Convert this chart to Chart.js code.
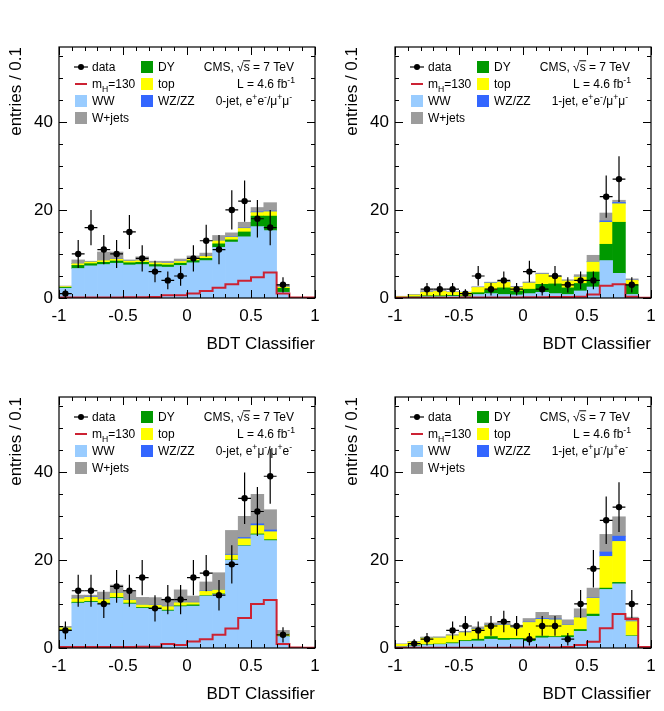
<!DOCTYPE html>
<html><head><meta charset="utf-8">
<script src="https://cdn.jsdelivr.net/npm/chart.js@4.4.1/dist/chart.umd.min.js"></script>
<style>
html,body{margin:0;padding:0;background:#fff;width:664px;height:711px;overflow:hidden;}
.p{position:absolute;width:332px;height:355px;}
</style></head><body>
<div class="p" style="left:0;top:0"><canvas id="c0" width="332" height="355"></canvas></div>
<div class="p" style="left:332px;top:0"><canvas id="c1" width="332" height="355"></canvas></div>
<div class="p" style="left:0;top:350px"><canvas id="c2" width="332" height="355"></canvas></div>
<div class="p" style="left:332px;top:350px"><canvas id="c3" width="332" height="355"></canvas></div>
<script>
// ---------- binning and tick labels ----------
const binCenters = [-0.95,-0.85,-0.75,-0.65,-0.55,-0.45,-0.35,-0.25,-0.15,-0.05,0.05,0.15,0.25,0.35,0.45,0.55,0.65,0.75,0.85,0.95];
const binEdges = [-1,-0.9,-0.8,-0.7,-0.6,-0.5,-0.4,-0.3,-0.2,-0.1,0,0.1,0.2,0.3,0.4,0.5,0.6,0.7,0.8,0.9,1];
const xTickLabels = [-1,-0.5,0,0.5,1];
const yTickLabels = [0,20,40];
const xAxisTitle = 'BDT Classifier';
const yAxisTitle = 'entries / 0.1';
const seriesNames = ['WW','DY','top','WZ/ZZ','W+jets'];

// ---------- panel 1: 0-jet, ee/mumu ----------
const ww_0j_sf  = [2.2,6.7,7.3,7.6,7.9,7.5,7.6,7.1,7.0,7.4,8.0,8.5,11.5,12.7,13.9,16.2,15.3,1.3,0,0];
const dy_0j_sf  = [0.2,0.7,0.5,0.5,0.5,0.5,0.5,0.5,0.5,0.5,0.5,0.5,0.8,0.5,1.1,2.4,3.3,0.9,0,0];
const top_0j_sf = [0.2,0.4,0.4,0.4,0.4,0.4,0.4,0.4,0.4,0.4,0.4,0.45,0.7,0.6,0.8,0.8,1.0,0.3,0,0];
const vv_0j_sf  = [0.02,0.05,0.05,0.05,0.05,0.05,0.05,0.05,0.05,0.05,0.05,0.05,0.1,0.1,0.1,0.15,0.15,0.05,0,0];
const wj_0j_sf  = [0.1,0.8,0.1,1.9,1.6,0.2,0.8,0.3,0.4,0.5,0.6,0.7,1.1,0.9,1.3,1.0,1.9,0.5,0,0];
const sig_0j_sf = [0.1,0.1,0.1,0.1,0.1,0.15,0.15,0.2,0.6,0.6,1.05,1.6,2.3,3.1,3.9,4.7,5.8,1.0,0.1,0.1];
const data_0j_sf = [1,10,16,11,10,15,9,6,4,5,9,13,11,20,22,18,16,3,null,null];
const err_0j_sf  = [1,3.16,4,3.32,3.16,3.87,3,2.45,2,2.24,3,3.61,3.32,4.47,4.69,4.24,4,1.73,null,null];

// ---------- panel 2: 1-jet, ee/mumu ----------
const ww_1j_sf  = [0.1,0.2,0.3,0.3,0.4,0.3,0.8,1.0,0.8,0.7,1.0,1.3,1.0,0.8,1.6,2.5,8.5,5.6,0.8,0];
const dy_1j_sf  = [0,0.1,0.2,0.2,0.2,0.2,0.4,0.8,1.5,0.9,1.0,1.8,2.2,1.5,1.7,3.4,3.7,11.6,2.2,0];
const top_1j_sf = [0.2,0.4,0.8,1.0,0.7,0.8,1.2,1.6,1.3,0.8,1.4,2.3,1.6,1.6,1.5,2.3,5.0,4.2,1.0,0];
const vv_1j_sf  = [0,0,0.02,0.02,0.02,0.02,0.05,0.1,0.05,0.05,0.05,0.05,0.05,0.05,0.1,0.1,0.3,0.3,0.05,0];
const wj_1j_sf  = [0.1,0.1,0.4,0.2,0.1,0,0.1,0.1,0.2,0.2,0.2,0.2,0.2,0.2,0.4,1.4,1.8,0.5,0.3,0];
const sig_1j_sf = [0.05,0.05,0.05,0.05,0.05,0.1,0.1,0.1,0.1,0.1,0.15,0.15,0.2,0.2,0.3,0.8,2.8,3.1,0.3,0.05];
const data_1j_sf = [null,null,2,2,2,1,5,2,4,2,6,2,5,3,4,4,23,27,3,null];
const err_1j_sf  = [null,null,1.41,1.41,1.41,1,2.24,1.41,2,1.41,2.45,1.41,2.24,1.73,2,2,4.8,5.2,1.73,null];

// ---------- panel 3: 0-jet, emu/mue ----------
const ww_0j_of  = [4.0,10.2,10.4,10.0,11.3,10.0,9.0,8.9,8.4,9.4,9.5,11.8,12.2,19.9,23.2,25.7,24.4,2.6,0,0];
const dy_0j_of  = [0.1,0.2,0.2,0.2,0.2,0.2,0.2,0.2,0.2,0.2,0.3,0.1,0.1,0.1,0.1,0.2,0.2,0.1,0,0];
const top_0j_of = [0.5,0.8,0.9,0.8,1.0,0.7,0.6,0.6,0.8,0.7,0.5,1.0,0.9,1.1,1.5,1.9,1.8,0.5,0,0];
const vv_0j_of  = [0.1,0.1,0.1,0.1,0.1,0.1,0.1,0.05,0.1,0.1,0.1,0.1,0.1,0.2,0.3,0.4,0.4,0.1,0,0];
const wj_0j_of  = [0.2,0.7,0.4,1.6,1.7,2.1,1.6,1.7,1.6,2.8,1.4,2.0,3.8,5.4,4.8,6.7,4.6,0.7,0,0];
const sig_0j_of = [0.2,0.2,0.2,0.2,0.2,0.2,0.3,0.3,0.9,0.7,1.5,2.0,3.0,4.4,6.8,10.0,10.9,0.9,0.1,0.05];
const data_0j_of = [4,13,13,10,14,13,16,9,11,11,16,17,12,19,34,31,39,3,null,null];
const err_0j_of  = [2,3.61,3.61,3.16,3.74,3.61,4,3,3.32,3.32,4,4.12,3.46,4.36,5.83,5.57,6.24,1.73,null,null];

// ---------- panel 4: 1-jet, emu/mue ----------
const ww_1j_of  = [0.3,0.5,0.7,0.8,1.0,1.5,1.6,2.0,1.8,1.9,1.5,2.3,2.4,2.4,3.8,7.2,13.3,14.6,2.7,0];
const dy_1j_of  = [0.05,0.1,0.1,0.1,0.2,0.2,0.4,0.6,0.4,0.3,0.5,0.4,0.2,0.4,0.4,0.5,0.3,0.3,0.1,0];
const top_1j_of = [0.5,0.8,1.5,1.4,1.6,1.8,2.3,2.6,3.0,2.4,3.8,3.8,3.8,2.4,2.7,3.6,7.2,9.3,3.2,0];
const vv_1j_of  = [0,0,0.1,0.05,0.05,0.1,0.1,0.1,0.1,0.1,0.1,0.2,0.2,0.1,0.1,0.1,1.0,1.2,0.1,0];
const wj_1j_of  = [0.1,0.1,0.1,0.2,0.2,0.2,0.4,0.4,0.7,0.5,0.8,1.4,0.8,1.1,1.9,2.2,4.0,4.4,0.9,0];
const sig_1j_of = [0.05,0.05,0.05,0.05,0.05,0.05,0.05,0.05,0.05,0.1,0.1,0.1,0.1,0.2,0.7,1.4,4.5,7.7,6.6,0.2];
const data_1j_of = [null,1,2,null,4,5,4,5,6,5,2,5,5,2,10,18,29,32,10,null];
const err_1j_of  = [null,1,1.41,null,2,2.24,2,2.24,2.45,2.24,1.41,2.24,2.24,1.41,3.16,4.24,5.39,5.66,3.16,null];

// ---------- styles ----------
const COLORS = ['#99CCFF','#009900','#FFFF00','#3366FF','#9C9C9C'];
const SIG_COLOR = '#CC2233';
const FONT = '"Liberation Sans", Arial, Helvetica, sans-serif';

const panels = [
  {id:'c0', L:59, R:315, jet:'0-jet', ch:'sf', stacks:[ww_0j_sf,dy_0j_sf,top_0j_sf,vv_0j_sf,wj_0j_sf], sig:sig_0j_sf, data:data_0j_sf, err:err_0j_sf},
  {id:'c1', L:63, R:319, jet:'1-jet', ch:'sf', stacks:[ww_1j_sf,dy_1j_sf,top_1j_sf,vv_1j_sf,wj_1j_sf], sig:sig_1j_sf, data:data_1j_sf, err:err_1j_sf},
  {id:'c2', L:59, R:315, jet:'0-jet', ch:'of', stacks:[ww_0j_of,dy_0j_of,top_0j_of,vv_0j_of,wj_0j_of], sig:sig_0j_of, data:data_0j_of, err:err_0j_of},
  {id:'c3', L:63, R:319, jet:'1-jet', ch:'of', stacks:[ww_1j_of,dy_1j_of,top_1j_of,vv_1j_of,wj_1j_of], sig:sig_1j_of, data:data_1j_of, err:err_1j_of},
];
const panelInfo = new Map();

function drawRich(ctx, segs, x, y, align, size) {
  const widths = segs.map(([t,m]) => { ctx.font = (m ? size*0.72 : size) + 'px ' + FONT; return ctx.measureText(t).width; });
  const total = widths.reduce((a,b)=>a+b,0);
  let cx = align === 'right' ? x - total : x;
  const starts = [];
  ctx.textAlign = 'left'; ctx.textBaseline = 'alphabetic';
  segs.forEach(([t,m],i) => {
    ctx.font = (m ? size*0.72 : size) + 'px ' + FONT;
    starts.push(cx);
    ctx.fillText(t, cx, y + (m === 1 ? -size*0.42 : (m === -1 ? size*0.28 : 0)));
    cx += widths[i];
  });
  return {starts, widths};
}

const hepPlugin = {
  id: 'hep',
  afterDatasetsDraw(chart) {
    const info = panelInfo.get(chart.canvas.id);
    if (!info) return;
    const {ctx, chartArea: a} = chart;
    const xs = chart.scales.x, ys = chart.scales.y;
    // error bars
    ctx.save();
    ctx.beginPath(); ctx.rect(a.left, a.top, a.right - a.left, a.bottom - a.top); ctx.clip();
    ctx.strokeStyle = '#000'; ctx.lineWidth = 1.2;
    info.data.forEach((v,i) => {
      if (v == null) return;
      const e = info.err[i];
      const px = xs.getPixelForValue(binCenters[i]);
      const py = ys.getPixelForValue(v);
      ctx.beginPath();
      ctx.moveTo(px, ys.getPixelForValue(v - e)); ctx.lineTo(px, ys.getPixelForValue(v + e));
      ctx.moveTo(xs.getPixelForValue(binEdges[i]), py); ctx.lineTo(xs.getPixelForValue(binEdges[i+1]), py);
      ctx.stroke();
    });
    ctx.restore();
    // frame + inward ticks
    ctx.save();
    ctx.strokeStyle = '#000'; ctx.lineWidth = 1.2;
    ctx.strokeRect(a.left, a.top, a.right - a.left, a.bottom - a.top);
    ctx.lineWidth = 1;
    ctx.beginPath();
    for (let k = 0; k <= 20; k++) {
      const v = binEdges[k];
      const major = xTickLabels.includes(v);
      const len = major ? 8 : 4;
      const px = Math.round(xs.getPixelForValue(v)) + 0.5;
      ctx.moveTo(px, a.bottom); ctx.lineTo(px, a.bottom - len);
      ctx.moveTo(px, a.top); ctx.lineTo(px, a.top + len);
    }
    for (let v = 0; v <= ys.max; v += 5) {
      const major = yTickLabels.includes(v);
      const len = major ? 8 : 4;
      const py = Math.round(ys.getPixelForValue(v)) + 0.5;
      ctx.moveTo(a.left, py); ctx.lineTo(a.left + len, py);
      ctx.moveTo(a.right, py); ctx.lineTo(a.right - len, py);
    }
    ctx.stroke();
    ctx.restore();
  },
  afterDraw(chart) {
    const info = panelInfo.get(chart.canvas.id);
    if (!info) return;
    const {ctx, chartArea: a} = chart;
    const L = a.left, T = a.top, R = a.right;
    const size = 12;
    const rows = [T + 20, T + 37, T + 54, T + 71];
    const base = r => r + 4.3;
    ctx.save();
    ctx.fillStyle = '#000';
    // column 1: data
    ctx.strokeStyle = '#000'; ctx.lineWidth = 1.2;
    ctx.beginPath(); ctx.moveTo(L + 15, rows[0]); ctx.lineTo(L + 29, rows[0]); ctx.stroke();
    ctx.beginPath(); ctx.arc(L + 22, rows[0], 3, 0, Math.PI * 2); ctx.fill();
    drawRich(ctx, [['data',0]], L + 33, base(rows[0]), 'left', size);
    // signal
    ctx.strokeStyle = SIG_COLOR; ctx.lineWidth = 2;
    ctx.beginPath(); ctx.moveTo(L + 16, rows[1]); ctx.lineTo(L + 28, rows[1]); ctx.stroke();
    ctx.fillStyle = '#000';
    drawRich(ctx, [['m',0],['H',-1],['=130',0]], L + 33, base(rows[1]), 'left', size);
    // boxes
    const boxes = [
      {c: COLORS[0], t: seriesNames[0], x: L + 16, r: rows[2]},
      {c: COLORS[4], t: seriesNames[4], x: L + 16, r: rows[3]},
      {c: COLORS[1], t: seriesNames[1], x: L + 82, r: rows[0]},
      {c: COLORS[2], t: seriesNames[2], x: L + 82, r: rows[1]},
      {c: COLORS[3], t: seriesNames[3], x: L + 82, r: rows[2]},
    ];
    boxes.forEach(b => {
      ctx.fillStyle = b.c; ctx.fillRect(b.x, b.r - 6, 12, 12);
      ctx.fillStyle = '#000';
      drawRich(ctx, [[b.t,0]], b.x + 17, base(b.r), 'left', size);
    });
    // right annotations
    const xr = R - 21;
    const res = drawRich(ctx, [['CMS, \u221A',0],['s',0],[' = 7 TeV',0]], xr, base(rows[0]), 'right', size);
    ctx.strokeStyle = '#000'; ctx.lineWidth = 1;
    ctx.beginPath();
    const oy = base(rows[0]) - 10.5;
    ctx.moveTo(res.starts[1] - 0.5, oy); ctx.lineTo(res.starts[1] + res.widths[1] + 0.5, oy); ctx.stroke();
    drawRich(ctx, [['L = 4.6 fb',0],['-1',1]], xr + 1, base(rows[1]), 'right', size);
    const chSegs = info.ch === 'sf'
      ? [[info.jet + ', e',0],['+',1],['e',0],['-',1],['/\u03BC',0],['+',1],['\u03BC',0],['-',1]]
      : [[info.jet + ', e',0],['+',1],['\u03BC',0],['-',1],['/\u03BC',0],['+',1],['e',0],['-',1]];
    drawRich(ctx, chSegs, xr - 2, base(rows[2]), 'right', size);
    ctx.restore();
  }
};

panels.forEach(P => {
  panelInfo.set(P.id, P);
  const datasets = [];
  P.stacks.forEach((arr, k) => {
    datasets.push({
      type: 'bar', label: seriesNames[k],
      data: binCenters.map((c,i) => ({x: c, y: arr[i]})),
      backgroundColor: COLORS[k], borderWidth: 0,
      barPercentage: 1, categoryPercentage: 1,
      stack: 'bkg', order: 2
    });
  });
  const sigPts = binEdges.map((e,i) => ({x: e, y: P.sig[Math.min(i, P.sig.length - 1)]}));
  datasets.push({
    type: 'line', label: 'mH=130', data: sigPts, stepped: 'before',
    borderColor: SIG_COLOR, borderWidth: 2, pointRadius: 0, fill: false,
    stack: 'sig', order: 1
  });
  const dataPts = [];
  P.data.forEach((v,i) => { if (v != null) dataPts.push({x: binCenters[i], y: v}); });
  datasets.push({
    type: 'line', label: 'data', data: dataPts, showLine: false,
    pointRadius: 3.2, pointBackgroundColor: '#000', pointBorderColor: '#000', pointBorderWidth: 0,
    stack: 'dat', order: 0
  });
  new Chart(document.getElementById(P.id), {
    type: 'bar',
    data: { datasets },
    options: {
      responsive: false, animation: false, devicePixelRatio: 1,
      layout: { padding: { left: 0, right: 332 - P.R, top: 47, bottom: 0 } },
      plugins: { legend: { display: false }, tooltip: { enabled: false } },
      scales: {
        x: {
          type: 'linear', min: -1, max: 1, stacked: true, offset: false,
          afterFit: s => { s.height = 57; },
          afterBuildTicks: s => { s.ticks = xTickLabels.map(v => ({value: v})); },
          grid: { display: false, drawTicks: false }, border: { display: false },
          ticks: { color: '#000', padding: 8, font: { family: FONT, size: 17 }, maxRotation: 0, callback: v => String(v) },
          title: { display: true, text: xAxisTitle, align: 'end', color: '#000', font: { family: FONT, size: 17 }, padding: { top: 0, bottom: 0 } }
        },
        y: {
          type: 'linear', min: 0, max: 57, stacked: true,
          afterFit: s => { s.width = P.L; },
          afterBuildTicks: s => { s.ticks = yTickLabels.map(v => ({value: v})); },
          grid: { display: false, drawTicks: false }, border: { display: false },
          ticks: { color: '#000', padding: 6, font: { family: FONT, size: 17 }, callback: v => String(v) },
          title: { display: true, text: yAxisTitle, align: 'end', color: '#000', font: { family: FONT, size: 17 }, padding: { top: P.L - 53, bottom: 0 } }
        }
      }
    },
    plugins: [hepPlugin]
  });
});
</script>
</body></html>
